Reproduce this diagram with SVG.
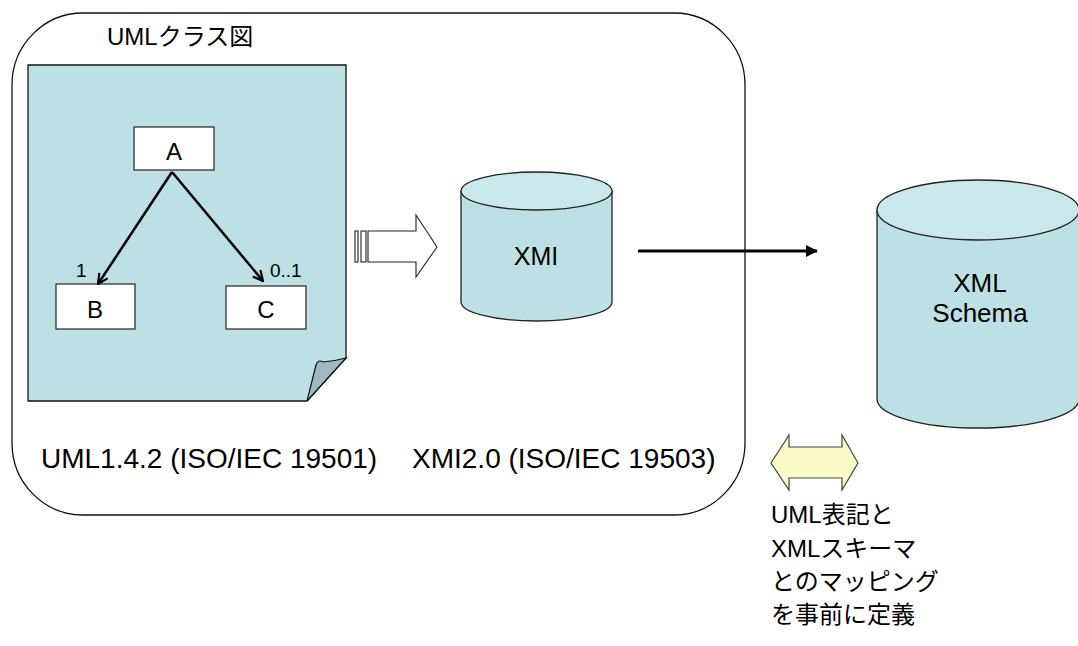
<svg xmlns="http://www.w3.org/2000/svg" width="1078" height="646" viewBox="0 0 1078 646">
<style>
text{font-family:"Liberation Sans","Noto Sans CJK JP",Arial,sans-serif;fill:#000}
.box{fill:#fff;stroke:#333;stroke-width:1.3}
.cyl{fill:#bce0e3;stroke:#222;stroke-width:1.3}
.cyltop{fill:#cae7ea;stroke:#222;stroke-width:1.3}
.assoc{fill:none;stroke:#000;stroke-width:2.5}
</style>
<defs>
<marker id="open" viewBox="0 0 12 12" refX="11" refY="6" markerWidth="12" markerHeight="12" markerUnits="userSpaceOnUse" orient="auto">
<path d="M1,1 L11,6 L1,11" fill="none" stroke="#000" stroke-width="2.2"/>
</marker>
<marker id="solid" viewBox="0 0 12 12" refX="11" refY="6" markerWidth="12" markerHeight="12" markerUnits="userSpaceOnUse" orient="auto">
<path d="M0,0 L12,6 L0,12 Z" fill="#000"/>
</marker>
</defs>
<g id="frame">
<rect x="12" y="13" width="733" height="502" rx="71" ry="72" fill="#fff" stroke="#111" stroke-width="1.3"/>
<text x="107" y="45" font-size="24">UMLクラス図</text>
<text x="41" y="468" font-size="28">UML1.4.2 (ISO/IEC 19501)</text>
<text x="412" y="468" font-size="28">XMI2.0 (ISO/IEC 19503)</text>
</g>
<g id="document">
<path d="M28,65 H346 V358 L307,401 H28 Z" fill="#bce0e3" stroke="#111" stroke-width="1.3"/>
<path d="M307,401 L316,365 Q318,359 323,362 Q335,361 346,358 Z" fill="#9ebcbf" stroke="#111" stroke-width="1.2"/>
</g>
<g id="nodeA">
<rect class="box" x="134" y="127" width="80" height="43"/>
<text x="174" y="160" font-size="24" text-anchor="middle">A</text>
</g>
<g id="nodeB">
<rect class="box" x="56" y="284" width="79" height="45"/>
<text x="95" y="318" font-size="24" text-anchor="middle">B</text>
</g>
<g id="nodeC">
<rect class="box" x="226" y="286" width="80" height="43"/>
<text x="266" y="318" font-size="24" text-anchor="middle">C</text>
</g>
<g id="xmi">
<path class="cyl" d="M461,191 V302 A75.5,19 0 0 0 612,302 V191"/>
<ellipse class="cyltop" cx="536.5" cy="191" rx="75.5" ry="19"/>
<text x="536" y="265" font-size="25" text-anchor="middle">XMI</text>
</g>
<g id="xmlschema">
<path class="cyl" d="M877,210 V399 A101,29 0 0 0 1079,399 V210"/>
<ellipse class="cyltop" cx="978" cy="210" rx="101" ry="30"/>
<text x="980" y="292" font-size="26" text-anchor="middle">XML</text>
<text x="980" y="322" font-size="26" text-anchor="middle">Schema</text>
</g>
<g id="mapping">
<path d="M771,463 L789,435 V447 H842 V435 L858,463 L842,490 V478 H789 V490 Z" fill="#fbfbc8" stroke="#444" stroke-width="1.2"/>
<text font-size="24">
<tspan x="771" y="523">UML表記と</tspan>
<tspan x="771" y="557">XMLスキーマ</tspan>
<tspan x="771" y="590">とのマッピング</tspan>
<tspan x="771" y="623">を事前に定義</tspan>
</text>
</g>
<g id="connectors">
<line class="assoc" x1="172" y1="172" x2="98" y2="284" marker-end="url(#open)"/>
<line class="assoc" x1="172" y1="172" x2="263" y2="281" marker-end="url(#open)"/>
<text x="76" y="277" font-size="19">1</text>
<text x="270" y="277" font-size="19">0..1</text>
<g fill="#fff" stroke="#222" stroke-width="1.1">
<rect x="355" y="231" width="3" height="31"/>
<rect x="361" y="231" width="5" height="31"/>
<path d="M368,231 H416 V215 L437,247 L416,277 V262 H368 Z"/>
</g>
<line x1="638" y1="251" x2="817" y2="251" stroke="#000" stroke-width="3.2" marker-end="url(#solid)"/>
</g>
</svg>
